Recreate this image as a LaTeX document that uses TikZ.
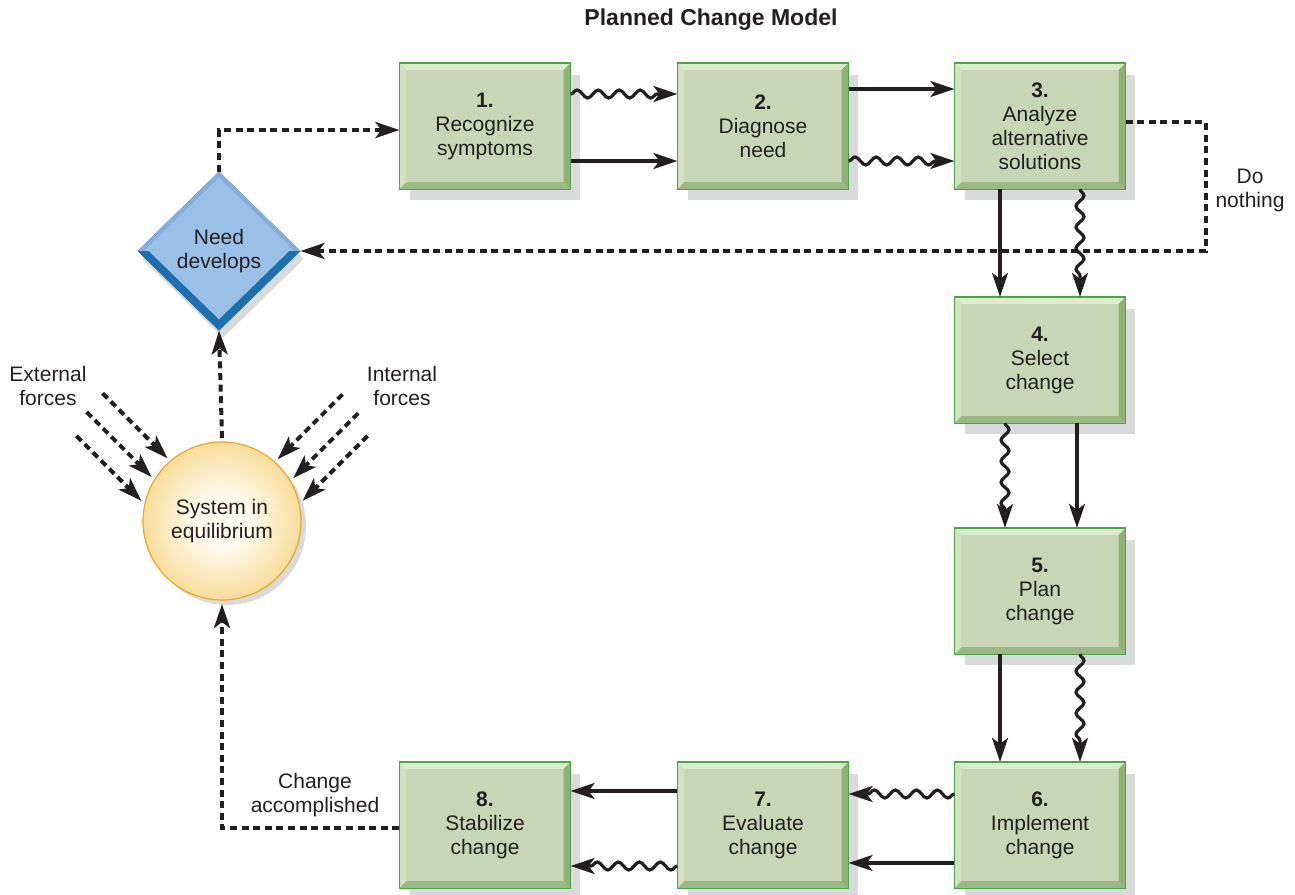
\documentclass[tikz,border=0pt]{standalone}
\usepackage{fontspec}
\setmainfont{Liberation Sans}
\usetikzlibrary{positioning,arrows.meta,calc,shapes.geometric,shadows,decorations.pathmorphing}
\definecolor{ink}{HTML}{231F20}
\definecolor{leaf}{HTML}{C9D6B5}
\definecolor{leafline}{HTML}{4DA446}
\definecolor{bevlight}{HTML}{DDEACB}
\definecolor{bevside}{HTML}{D2E2BF}
\definecolor{bevdark}{HTML}{8FB274}
\definecolor{bevlow}{HTML}{9AB985}
\definecolor{shade}{HTML}{D9DADC}
\definecolor{sea}{HTML}{9BC0E7}
\definecolor{seamid}{HTML}{86AEDA}
\definecolor{seadeep}{HTML}{1E6FAD}
\definecolor{sunedge}{HTML}{E8A92A}
\definecolor{sunring}{HTML}{F5D27A}
\definecolor{sundeep}{HTML}{EBAE33}
\definecolor{sunmid}{HTML}{F2BD40}
\definecolor{sunpale}{HTML}{FFFBF2}
\pgfdeclareradialshading{sunglow}{\pgfpoint{0bp}{0bp}}{color(0bp)=(sunpale);color(8bp)=(sunpale);color(42bp)=(sunmid);color(44.5bp)=(sundeep);color(45.5bp)=(sunring);color(49bp)=(sunring);color(50bp)=(sunedge)}

\begin{document}
\begin{tikzpicture}[x=0.5pt,y=-0.5pt,font=\fontsize{10.5}{12}\selectfont,text=ink,
    stepbox/.style={rectangle,draw=leafline,line width=0.6pt,fill=leaf,minimum width=85pt,minimum height=62.5pt,inner sep=0pt,align=center,
      drop shadow={shadow xshift=5pt,shadow yshift=-5.5pt,fill=shade,opacity=1}},
    firm/.style={-{Stealth[length=12pt,width=8pt,inset=3pt]},line width=1.6pt,ink},
    wavy/.style={firm,decorate,decoration={snake,amplitude=2pt,segment length=10.5pt,post length=8pt}},
    dashy/.style={-{Stealth[length=12pt,width=8pt,inset=3pt]},line width=2pt,dash pattern=on 3.5pt off 2.3pt,ink}]
    \useasboundingbox (0,0) rectangle (1295,894);
    \node[font=\bfseries\fontsize{11.5}{14}\selectfont] (title) at (711,20) {Planned Change Model};
    \foreach \n/\x/\y/\t in {1/485/126/Recognize\\symptoms,2/763/126/Diagnose\\need,3/1040/126/Analyze\\alternative\\solutions,
      4/1040/360/Select\\change,5/1040/591/Plan\\change,6/1040/825/Implement\\change,7/763/825/Evaluate\\change,8/485/825/Stabilize\\change}{
      \node[stepbox] (b\n) at (\x,\y) {\textbf{\n.}\\\t};
    }
    \foreach \n in {1,...,8}{
      \fill[bevlight] (b\n.north west) -- (b\n.north east) -- ([shift={(-3.5pt,-3.5pt)}]b\n.north east) -- ([shift={(3.5pt,-3.5pt)}]b\n.north west) -- cycle;
      \fill[bevside] (b\n.north west) -- ([shift={(3.5pt,-3.5pt)}]b\n.north west) -- ([shift={(3.5pt,3.5pt)}]b\n.south west) -- (b\n.south west) -- cycle;
      \fill[bevdark] (b\n.north east) -- (b\n.south east) -- ([shift={(-3.5pt,3.5pt)}]b\n.south east) -- ([shift={(-3.5pt,-3.5pt)}]b\n.north east) -- cycle;
      \fill[bevlow] (b\n.south west) -- (b\n.south east) -- ([shift={(-3.5pt,3.5pt)}]b\n.south east) -- ([shift={(3.5pt,3.5pt)}]b\n.south west) -- cycle;
      \draw[leafline,line width=0.6pt] (b\n.north west) rectangle (b\n.south east);
    }
    \node[diamond,draw=seadeep,line width=0.5pt,fill=sea,minimum width=81pt,minimum height=79pt,inner sep=0pt,align=center,
      drop shadow={shadow xshift=2pt,shadow yshift=-4pt,fill=shade,opacity=1}] (need) at (219,251) {Need\\develops};
    \fill[seamid] (need.west) -- (need.north) -- (need.east) -- ([xshift=-3pt]need.east) -- ([yshift=-3pt]need.north) -- ([xshift=3pt]need.west) -- cycle;
    \fill[seadeep] (need.west) -- (need.south) -- (need.east) -- ([xshift=-5.5pt]need.east) -- ([yshift=5.5pt]need.south) -- ([xshift=5.5pt]need.west) -- cycle;
    \node[circle,draw=sunedge,line width=0.6pt,shade,shading=sunglow,minimum size=79pt,inner sep=0pt,outer sep=2pt,align=center,
      drop shadow={shadow xshift=2.5pt,shadow yshift=-2.5pt,fill=shade,opacity=1}] (sys) at (222,521) {System in\\equilibrium};
    \node[align=center] (ext) at (48,386) {External\\forces};
    \node[align=center] (int) at (402,386) {Internal\\forces};
    \node[align=center] (noth) at (1250,190) {Do\\nothing};
    \node[align=center] (done) at (315,795) {Change\\accomplished};
    \foreach \a/\b/\dx/\dy/\k in {b1.east/b2.west/0/35/firm,b1.east/b2.west/0/-32/wavy,b2.east/b3.west/0/-37/firm,b2.east/b3.west/0/35/wavy,
      b3.south/b4.north/-40/0/firm,b3.south/b4.north/40/0/wavy,b4.south/b5.north/-35/0/wavy,b4.south/b5.north/37/0/firm,
      b5.south/b6.north/-40/0/firm,b5.south/b6.north/40/0/wavy,b6.west/b7.east/0/-31/wavy,b6.west/b7.east/0/38/firm,
      b7.west/b8.east/0/-34/firm,b7.west/b8.east/0/41/wavy}{
      \draw[\k] ($(\a)+(\dx,\dy)$) -- ($(\b)+(\dx,\dy)$);
    }
    \draw[dashy] (sys.north) -- (need.south);
    \draw[dashy] (need.north) |- ($(b1.west)+(0,4)$);
    \draw[dashy] ($(b3.east)+(0,-4)$) -- ++(80,0) |- (need.east);
    \draw[dashy] ($(b8.west)+(0,3)$) -| (sys.south);
    \foreach \a/\k in {131/e1,148/e2,166/e3}{
      \coordinate (\k) at ($(sys.\a)+(-65,-65)$);
      \draw[dashy] (\k) -- (sys.\a);
    }
    \foreach \a/\k in {48/i1,31/i2,14/i3}{
      \coordinate (\k) at ($(sys.\a)+(65,-65)$);
      \draw[dashy] (\k) -- (sys.\a);
    }
  \end{tikzpicture}
\end{document}
